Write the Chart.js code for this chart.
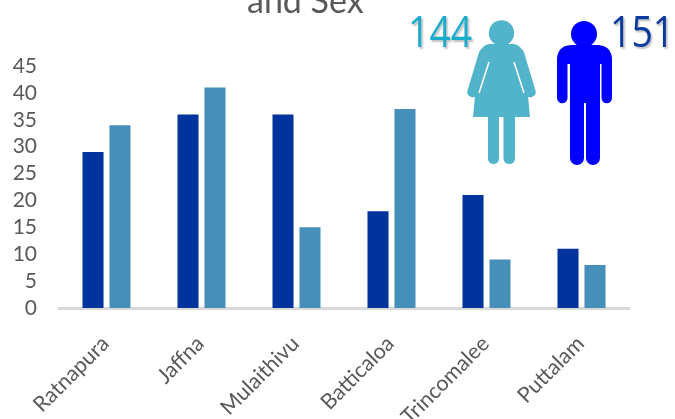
<!DOCTYPE html>
<html>
<head>
<meta charset="utf-8">
<script src="https://cdn.jsdelivr.net/npm/chart.js@4"></script>
<style>
  html, body { margin: 0; padding: 0; background: #fff; overflow: hidden; }
  #wrap { position: relative; width: 675px; height: 419px; overflow: hidden; font-family: Lato, sans-serif; }
  #title { position: absolute; left: 247px; top: -20px; font-size: 34px; line-height: 40px; color: #595959; white-space: nowrap; }
  .total { position: absolute; font-family: "Open Sans", sans-serif; font-size: 44px; line-height: 50px; white-space: nowrap; text-shadow: 2px 2px 2px rgba(0,0,0,0.25); transform-origin: left top; transform: scaleX(0.85); }
  #femaleTotal { left: 408px; top: 5px; color: #1aaccb; }
  #maleTotal { left: 610px; top: 5px; color: #0b3a9e; }
  #icons { position: absolute; left: 0; top: 0; }
</style>
</head>
<body>
<div id="wrap">
  <canvas id="chart" width="675" height="419"></canvas>
  <div id="title">and Sex</div>
  <svg id="icons" width="675" height="419">
    <g fill="#52b4ca" stroke="none">
      <circle cx="501.5" cy="33" r="12.7"/>
      <path d="M489 44 H514 Q521 45 524 54 L530 117 H473 L479 54 Q482 45 489 44 Z"/>
      <line x1="484" y1="54" x2="472.5" y2="92" stroke="#52b4ca" stroke-width="10.5" stroke-linecap="round"/>
      <line x1="519" y1="54" x2="530.5" y2="92" stroke="#52b4ca" stroke-width="10.5" stroke-linecap="round"/>
      <path d="M488 110 H499 V158.500 a5.500 5.500 0 0 1 -11 0 Z"/>
      <path d="M503.500 110 H515 V158.500 a5.750 5.500 0 0 1 -11.500 0 Z"/>
    </g>
    <path d="M489 62 L479 93" stroke="#fff" stroke-width="1.500"/>
    <path d="M514 62 L524 93" stroke="#fff" stroke-width="1.500"/>
    <g fill="#0000ff">
      <circle cx="584" cy="34" r="13"/>
      <path d="M571 45 H598 Q612 46 612 60 V98 a5.250 5.250 0 0 1 -10.500 0 V64 H600 V158 a7 7 0 0 1 -14 0 V103 H584 V158 a7 7 0 0 1 -14 0 V64 H567.500 V98 a5.250 5.250 0 0 1 -10.500 0 V60 Q557 46 571 45 Z"/>
    </g>
  </svg>
  <div id="femaleTotal" class="total">144</div>
  <div id="maleTotal" class="total">151</div>
</div>
<script>
// Values
const categories = ['Ratnapura', 'Jaffna', 'Mulaithivu', 'Batticaloa', 'Trincomalee', 'Puttalam'];
const maleValues = [29, 36, 36, 18, 21, 11];
const femaleValues = [34, 41, 15, 37, 9, 8];
const yTicks = [0, 5, 10, 15, 20, 25, 30, 35, 40, 45];

new Chart(document.getElementById('chart').getContext('2d'), {
    type: 'bar',
    data: {
        labels: categories,
        datasets: [
            { label: 'Male', data: maleValues, backgroundColor: '#00339c' },
            { label: 'Female', data: femaleValues, backgroundColor: '#468fb8' }
        ]
    },
    options: {
        responsive: false,
        animation: false,
        categoryPercentage: 0.568,
        barPercentage: 0.78,
        layout: { padding: { top: 66, right: 46, left: 0, bottom: 0 } },
        plugins: { legend: { display: false }, title: { display: false }, tooltip: { enabled: false } },
        scales: {
            x: {
                grid: { display: false },
                border: { color: '#d9d9d9', width: 3 },
                afterFit: (scale) => { scale.height = 111; },
                ticks: { color: '#595959', font: { family: 'Lato', size: 21.5 }, minRotation: 45, maxRotation: 45, padding: 15, labelOffset: -1, autoSkip: false }
            },
            y: {
                min: 0,
                max: 45,
                grid: { display: false },
                border: { display: false },
                afterFit: (scale) => { scale.width = 59; },
                afterBuildTicks: (scale) => { scale.ticks = yTicks.map(v => ({ value: v })); },
                ticks: { color: '#595959', font: { family: 'Lato', size: 21 }, padding: 14, autoSkip: false }
            }
        }
    }
});
</script>
</body>
</html>
